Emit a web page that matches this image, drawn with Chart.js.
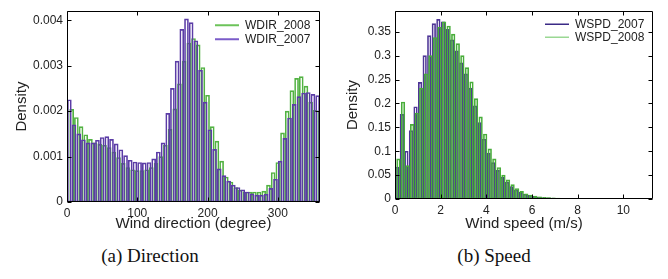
<!DOCTYPE html>
<html><head><meta charset="utf-8">
<script src="https://cdn.jsdelivr.net/npm/chart.js@4/dist/chart.umd.min.js"></script>
<style>
html,body{margin:0;padding:0;background:#fff;width:668px;height:279px;overflow:hidden;}
.pane{position:absolute;top:0;width:334px;height:240px;}
.cap{position:absolute;top:245px;font-family:"Liberation Serif","Times New Roman",serif;font-size:19px;color:#111;transform:translateX(-50%);white-space:nowrap;}
</style></head><body>
<div class="pane" style="left:0"><canvas id="c1" width="334" height="240"></canvas></div>
<div class="pane" style="left:334px"><canvas id="c2" width="334" height="240"></canvas></div>
<div class="cap" style="left:150px">(a) Direction</div>
<div class="cap" style="left:494px">(b) Speed</div>
<script>
// ---------- DATA ----------
const dirBinWidth = 360 / 54;
const wdir2007 = [0.00225,0.00170,0.00150,0.00137,0.00130,0.00130,0.00136,0.00142,0.00144,0.00138,
  0.00128,0.00115,0.00102,0.00092,0.00088,0.00087,0.00086,0.00087,0.00095,0.00110,
  0.00130,0.00195,0.00250,0.00310,0.00380,0.00403,0.00395,0.00355,0.00290,0.00220,
  0.00159,0.00116,0.00073,0.00058,0.00046,0.00037,0.00032,0.00027,0.00022,0.00018,
  0.00015,0.00015,0.00017,0.00030,0.00050,0.00090,0.00140,0.00185,0.00215,0.00232,
  0.00240,0.00241,0.00237,0.00234];
const wdir2008 = [0.00204,0.00186,0.00166,0.00148,0.00138,0.00130,0.00127,0.00125,0.00120,0.00110,
  0.00098,0.00085,0.00076,0.00071,0.00069,0.00069,0.00071,0.00076,0.00085,0.00100,
  0.00125,0.00160,0.00205,0.00260,0.00310,0.00350,0.00360,0.00346,0.00296,0.00235,
  0.00166,0.00134,0.00090,0.00055,0.00044,0.00032,0.00026,0.00022,0.00022,0.00022,
  0.00022,0.00024,0.00037,0.00065,0.00087,0.00152,0.00200,0.00245,0.00272,0.00276,
  0.00255,0.00220,0.00202,0.00200];
const dirXTicks = [0,100,200,300];
const dirYTicks = [0,0.001,0.002,0.003,0.004];
const dirYLabels = ['0','0.001','0.002','0.003','0.004'];

const spdBinWidth = 0.2;
const wspd2007 = [0.067,0.177,0.100,0.143,0.193,0.244,0.300,0.342,0.367,0.376,
  0.371,0.355,0.333,0.310,0.285,0.262,0.232,0.195,0.160,0.125,
  0.096,0.076,0.060,0.046,0.035,0.026,0.019,0.014,0.010,0.0075,
  0.0055,0.0042,0.0032,0.0025,0.0020,0.0016,0.0013,0.0011,0.0009,0.0008,
  0.0007,0.0006,0.0005,0.0005,0.0004,0.0004,0.0003,0.0003,0.0003,0.0005,
  0.0006,0.0003,0.0002,0.0002,0.0002,0.0001];
const wspd2008 = [0.084,0.203,0.070,0.156,0.180,0.232,0.262,0.300,0.338,0.360,
  0.371,0.362,0.345,0.325,0.300,0.275,0.245,0.210,0.172,0.136,
  0.105,0.084,0.066,0.050,0.040,0.030,0.022,0.016,0.011,0.008,
  0.006,0.0045,0.0035,0.0030,0.0022,0.0018,0.0014,0.0012,0.0010,0.0009,
  0.0008,0.0007,0.0006,0.0005,0.0005,0.0004,0.0004,0.0003,0.0003,0.0003,
  0.0003,0.0003,0.0002,0.0002,0.0002,0.0001];
const spdXTicks = [0,2,4,6,8,10];
const spdYTicks = [0,0.05,0.1,0.15,0.2,0.25,0.3,0.35];
const spdYLabels = ['0','0.05','0.1','0.15','0.2','0.25','0.3','0.35'];

// ---------- STYLE ----------
Chart.defaults.font.family = "'Liberation Sans', Arial, sans-serif";
Chart.defaults.color = '#222';

const boxTicks = {
  id: 'boxTicks',
  afterLayout(chart, args, opts) {
    const lg = chart.legend, a = chart.chartArea;
    if (!lg || !lg.columnSizes || !lg.columnSizes.length) return;
    const w = lg.columnSizes[0].width + 12, h = lg.columnSizes[0].height + 12;
    lg.left = a.right - opts.legendRight;
    lg.top = a.top + opts.legendTop;
    lg.right = lg.left + w; lg.bottom = lg.top + h;
    lg.width = w; lg.height = h;
  },
  afterDatasetsDraw(chart) {
    const {ctx, chartArea: a, scales: {x, y}} = chart;
    const L = Math.round(a.left) + 0.5, R = Math.round(a.right) - 0.5;
    const T = Math.round(a.top) + 0.5, B = Math.round(a.bottom) - 0.5;
    ctx.save();
    ctx.strokeStyle = '#000'; ctx.lineWidth = 1;
    ctx.beginPath();
    ctx.rect(L, T, R - L, B - T);
    x.ticks.forEach(t => {
      const p = Math.round(x.getPixelForValue(t.value)) + 0.5;
      ctx.moveTo(p, B); ctx.lineTo(p, B - 4);
      ctx.moveTo(p, T); ctx.lineTo(p, T + 4);
    });
    y.ticks.forEach(t => {
      const p = Math.round(y.getPixelForValue(t.value)) + 0.5;
      ctx.moveTo(L, p); ctx.lineTo(L + 4, p);
      ctx.moveTo(R, p); ctx.lineTo(R - 4, p);
    });
    ctx.stroke();
    ctx.restore();
  }
};

function legendOpts(boxH, pad) {
  return {
    position: 'chartArea', align: 'start',
    labels: {
      boxWidth: 24, boxHeight: boxH, padding: pad, color: '#222',
      font: {size: 12},
      generateLabels: chart => chart.data.datasets.map((ds, i) => ({
        text: ds.label, fillStyle: ds.legendColor, strokeStyle: ds.legendColor,
        lineWidth: 0, hidden: false, datasetIndex: i, fontColor: '#222'
      })),
      sort: (a, b) => b.datasetIndex - a.datasetIndex
    }
  };
}

function makeChart(id, cfg) {
  return new Chart(document.getElementById(id), {
    type: 'bar',
    data: {datasets: cfg.datasets},
    options: {
      responsive: false, animation: false, devicePixelRatio: 1,
      layout: {padding: cfg.padding},
      plugins: {
        legend: legendOpts(cfg.legendBoxH, cfg.legendPad),
        tooltip: {enabled: false},
        boxTicks: {legendRight: cfg.legendRight, legendTop: cfg.legendTop}
      },
      scales: {
        x: {
          type: 'linear', min: cfg.xmin, max: cfg.xmax, offset: false,
          grid: {display: false, drawTicks: false},
          border: {display: false},
          afterBuildTicks: s => { s.ticks = cfg.xTicks.map(v => ({value: v})); },
          afterFit: s => { s.height = cfg.xAxisH; },
          ticks: {padding: 4, font: {size: 12}, color: '#222', maxRotation: 0, autoSkip: false,
            callback: v => String(v)},
          title: {display: true, text: cfg.xTitle, font: {size: 15}, color: '#222', padding: {top: 0, bottom: 7}}
        },
        y: {
          min: 0, max: cfg.ymax,
          grid: {display: false, drawTicks: false},
          border: {display: false},
          afterBuildTicks: s => { s.ticks = cfg.yTicks.map(v => ({value: v})); },
          afterFit: s => { s.width = cfg.yAxisW; },
          ticks: {padding: 4, font: {size: 12}, color: '#222', autoSkip: false,
            callback: (v, i) => cfg.yLabels[i]},
          title: {display: true, text: 'Density', font: {size: 15}, color: '#222', padding: {top: cfg.yTitlePad, bottom: 0}}
        }
      }
    },
    plugins: [boxTicks]
  });
}

makeChart('c1', {
  padding: {left: 0, right: 14, top: 6, bottom: 0},
  xmin: 0, xmax: 360, ymax: 0.0042, xAxisH: 38, yAxisW: 67, yTitlePad: 13,
  xTicks: dirXTicks, yTicks: dirYTicks, yLabels: dirYLabels,
  xTitle: 'Wind direction (degree)', legendBoxH: 2, legendPad: 2,
  legendRight: 107, legendTop: 6,
  datasets: [
    {label: 'WDIR_2007', legendColor: '#7b5cc9',
     data: wdir2007.map((v, i) => ({x: (i + 0.5) * dirBinWidth, y: v})),
     backgroundColor: 'rgba(0,0,0,0)', borderColor: '#5b3ca6', borderWidth: 1,
     borderSkipped: false, barThickness: 4, grouped: false},
    {label: 'WDIR_2008', legendColor: '#6cc35a',
     data: wdir2008.map((v, i) => ({x: (i + 1) * dirBinWidth, y: v})),
     backgroundColor: 'rgba(0,0,0,0)', borderColor: '#52b242', borderWidth: 1,
     borderSkipped: false, barThickness: 4, grouped: false}
  ]
});

makeChart('c2', {
  padding: {left: 0, right: 15, top: 7, bottom: 0},
  xmin: 0, xmax: 11.3, ymax: 0.393, xAxisH: 41, yAxisW: 61, yTitlePad: 10,
  xTicks: spdXTicks, yTicks: spdYTicks, yLabels: spdYLabels,
  xTitle: 'Wind speed (m/s)', legendBoxH: 1.5, legendPad: 1,
  legendRight: 109, legendTop: 6,
  datasets: [
    {label: 'WSPD_2008', legendColor: '#9ad893',
     data: wspd2008.map((v, i) => ({x: (i + 0.5) * spdBinWidth + 0.05, y: v})),
     backgroundColor: 'rgba(0,0,0,0)', borderColor: '#48ad3a', borderWidth: 1,
     borderSkipped: false, barThickness: 3.6, grouped: false},
    {label: 'WSPD_2007', legendColor: '#3b2a86',
     data: wspd2007.map((v, i) => ({x: (i + 0.5) * spdBinWidth, y: v})),
     backgroundColor: 'rgba(0,0,0,0)', borderColor: '#4e3596', borderWidth: 1,
     borderSkipped: false, barThickness: 3.6, grouped: false}
  ]
});
</script>
</body></html>
